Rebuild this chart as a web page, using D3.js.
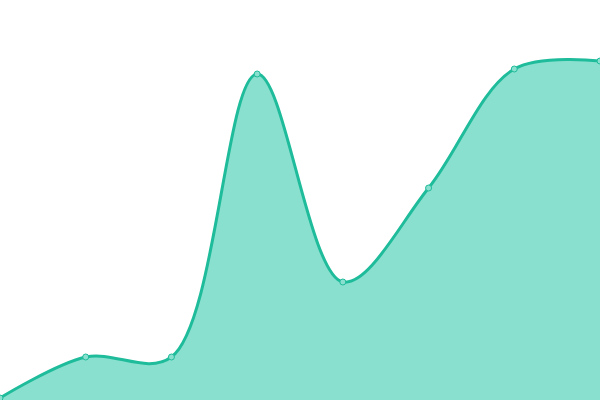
<!DOCTYPE html>
<html>
<head>
<meta charset="utf-8">
<script src="https://cdn.jsdelivr.net/npm/d3@7"></script>
<style>
  html, body { margin: 0; padding: 0; background: #fff; }
  #chart { width: 600px; height: 400px; }
  svg { display: block; }
</style>
</head>
<body>
<div id="chart"></div>
<script>
const categories = ["A", "B", "C", "D", "E", "F", "G", "H"];
const values = [0.5, 10.75, 10.75, 81.5, 29.5, 53, 82.75, 84.75];

(function () {
  const width = 600, height = 400;

  const svg = d3.select("#chart")
    .append("svg")
    .attr("width", width)
    .attr("height", height);

  const x = d3.scalePoint()
    .domain(categories)
    .range([0, width]);

  const y = d3.scaleLinear()
    .domain([0, 100])
    .range([height, 0]);

  const data = categories.map((c, i) => ({ cat: c, value: values[i] }));
  const curve = d3.curveCatmullRom.alpha(0.5);

  const area = d3.area()
    .x(d => x(d.cat))
    .y0(height)
    .y1(d => y(d.value))
    .curve(curve);

  const line = d3.line()
    .x(d => x(d.cat))
    .y(d => y(d.value))
    .curve(curve);

  svg.append("path")
    .datum(data)
    .attr("d", area)
    .attr("fill", "#8ae0cf");

  svg.append("path")
    .datum(data)
    .attr("d", line)
    .attr("fill", "none")
    .attr("stroke", "#1fbc9b")
    .attr("stroke-width", 3);

  svg.selectAll("circle")
    .data(data)
    .join("circle")
    .attr("cx", d => x(d.cat))
    .attr("cy", d => y(d.value))
    .attr("r", 3)
    .attr("fill", "#8ae0cf")
    .attr("stroke", "#1fbc9b")
    .attr("stroke-width", 1);
})();
</script>
</body>
</html>
